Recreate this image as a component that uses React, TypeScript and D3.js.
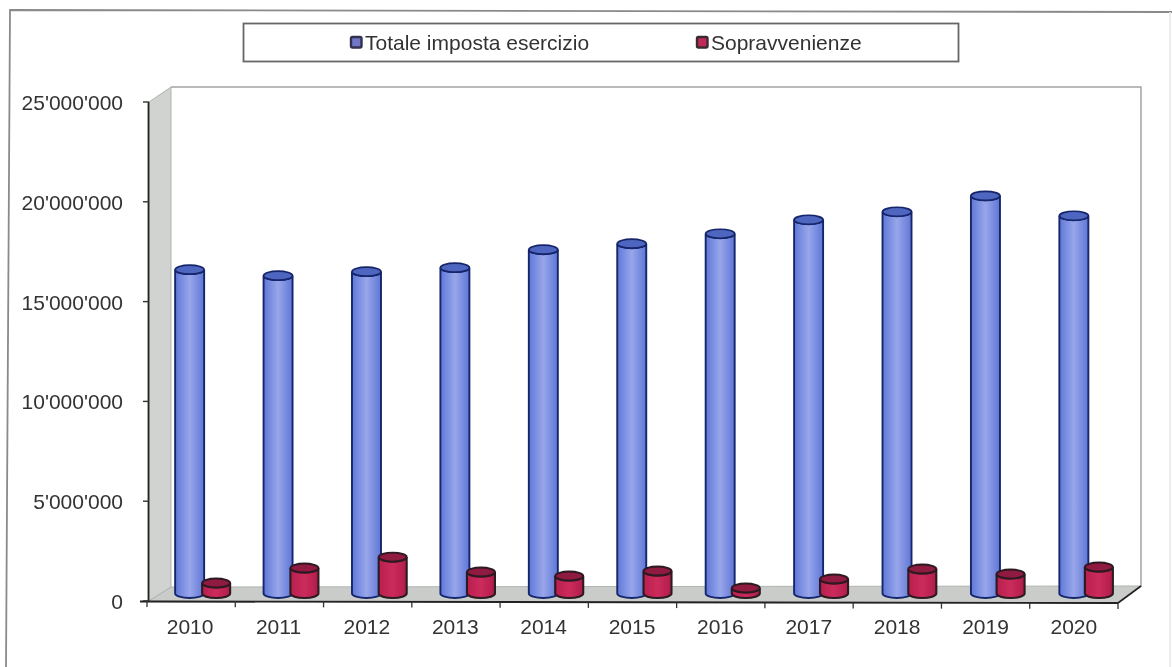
import React from "react";
import * as d3 from "d3";

const years = ["2010", "2011", "2012", "2013", "2014", "2015", "2016", "2017", "2018", "2019", "2020"];
const totale = [16400000, 16100000, 16300000, 16500000, 17400000, 17700000, 18200000, 18900000, 19300000, 20100000, 19100000];
const sopravvenienze = [700000, 1450000, 2000000, 1250000, 1050000, 1300000, 450000, 900000, 1400000, 1150000, 1500000];
const yTicks = [0, 5000000, 10000000, 15000000, 20000000, 25000000];

const x = d3.scaleBand<string>().domain(years).range([147, 1118]);
const y = d3.scaleLinear().domain([0, 25000000]).range([601, 102]);
const fmt = (v: number) => d3.format(",")(v).replace(/,/g, "'");

const font = "'Liberation Sans', Arial, sans-serif";
const baseY = y(0) - 7.5;

// one 3D cylinder, standing on the floor
const Cylinder = ({ cx, w, value, side, top, stroke, sw }: any) => {
  const rx = w / 2;
  const ry = 4.5;
  const ty = y(value) - 4;
  const left = cx - rx;
  const right = cx + rx;
  const body = `M${left},${ty} L${left},${baseY} A${rx},${ry} 0 0 0 ${right},${baseY} L${right},${ty} A${rx},${ry} 0 0 1 ${left},${ty} Z`;
  return (
    <g>
      <path d={body} fill={`url(#${side})`} stroke={stroke} strokeWidth={sw} />
      <ellipse cx={cx} cy={ty} rx={rx} ry={ry} fill={top} stroke={stroke} strokeWidth={sw - 0.2} />
    </g>
  );
};

export default function App() {
  return (
    <svg
      width={1172}
      height={667}
      style={{ position: "absolute", left: 0, top: 0, background: "#fff" }}
      fontFamily={font}
    >
      <defs>
        <linearGradient id="blueSide" x1="0" x2="1" y1="0" y2="0">
          <stop offset="0" stopColor="#5f78d8" />
          <stop offset="0.5" stopColor="#98a6ea" />
          <stop offset="1" stopColor="#5f76d6" />
        </linearGradient>
        <linearGradient id="redSide" x1="0" x2="1" y1="0" y2="0">
          <stop offset="0" stopColor="#b81f4e" />
          <stop offset="0.5" stopColor="#cc2c5c" />
          <stop offset="1" stopColor="#b01c4a" />
        </linearGradient>
        <filter id="scan" x="-2%" y="-2%" width="104%" height="104%">
          <feGaussianBlur stdDeviation="0.55" />
        </filter>
      </defs>

      <g filter="url(#scan)">
        {/* page frame */}
        <path d="M6,667 L10,10 L1172,12" fill="none" stroke="#8a8a8a" strokeWidth={1.8} />
        <line x1={1170} x2={1170} y1={12} y2={667} stroke="#e6e6e6" strokeWidth={1.5} />

        {/* legend */}
        <rect x={243.5} y={23.5} width={715} height={38} fill="#fff" stroke="#666" strokeWidth={1.8} />
        <rect x={351} y={37} width={10.5} height={10.5} rx={1.5} fill="#7076c8" stroke="#33334f" strokeWidth={2.4} />
        <text x={365} y={49.5} fontSize={21} fill="#333">Totale imposta esercizio</text>
        <rect x={697} y={37} width={10.5} height={10.5} rx={1.5} fill="#c02a56" stroke="#3a2a30" strokeWidth={2.4} />
        <text x={711} y={49.5} fontSize={21} fill="#333">Sopravvenienze</text>

        {/* 3D walls and floor */}
        <path d="M149,102 L171,87 L171,587 L149,601 Z" fill="#d0d3d0" stroke="#b0b4b0" />
        <path d="M171,87 L1141,87 L1141,587" fill="none" stroke="#a4a4a4" strokeWidth={1.5} />
        <path d="M149,601 L171,587 L1141,586 L1118,603 Z" fill="#c9ccc9" stroke="#b0b4b0" />

        {/* bars */}
        {years.map((yr, i) => {
          const x0 = x(yr) as number;
          const step = x.bandwidth();
          return (
            <g key={yr}>
              <Cylinder cx={x0 + step * 0.5 - 1.5 + i * 0.15} w={29} value={totale[i]} side="blueSide" top="#4f66c0" stroke="#14256a" sw={1.9} />
              <Cylinder cx={x0 + step * 0.5 + 25} w={28} value={sopravvenienze[i]} side="redSide" top="#8f1a40" stroke="#2a1a20" sw={2.1} />
            </g>
          );
        })}

        {/* y axis */}
        <line x1={148.5} x2={148.5} y1={102} y2={601} stroke="#222" strokeWidth={1.8} />
        {yTicks.map((t) => (
          <g key={t}>
            <line x1={143} x2={149} y1={y(t)} y2={y(t)} stroke="#333" strokeWidth={1.4} />
            <text x={123} y={y(t) + 8} textAnchor="end" fontSize={21} fill="#333">{fmt(t)}</text>
          </g>
        ))}

        {/* x axis */}
        <line x1={140} x2={1118} y1={601.5} y2={603} stroke="#222" strokeWidth={1.9} />
        <line x1={1118} x2={1141} y1={603} y2={586} stroke="#222" strokeWidth={1.6} />
        {x.domain().concat("end").map((yr, i) => {
          const tx = 147 + i * x.step();
          const ty = 601 + (i * 2) / 11;
          return <line key={yr} x1={tx} x2={tx} y1={ty} y2={ty + 6} stroke="#333" strokeWidth={1.3} />;
        })}
        {years.map((yr, i) => (
          <text key={yr} x={(x(yr) as number) + x.bandwidth() / 2 - 1 + i * 0.1} y={634} textAnchor="middle" fontSize={21} fill="#333">{yr}</text>
        ))}
      </g>
    </svg>
  );
}
